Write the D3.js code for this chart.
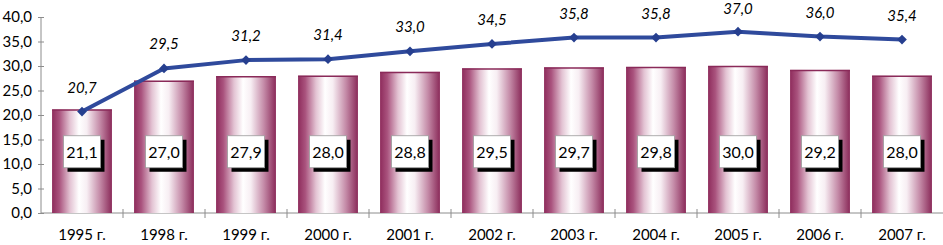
<!DOCTYPE html>
<html><head><meta charset="utf-8">
<script src="https://cdn.jsdelivr.net/npm/d3@7"></script>
<style>body{margin:0;background:#fff}svg{display:block}</style>
</head><body>
<svg id="c" width="943" height="245"></svg>
<script>
const categories = ["1995 г.","1998 г.","1999 г.","2000 г.","2001 г.","2002 г.","2003 г.","2004 г.","2005 г.","2006 г.","2007 г."];
const barValues = [21.1,27.0,27.9,28.0,28.8,29.5,29.7,29.8,30.0,29.2,28.0];
const lineValues = [20.7,29.5,31.2,31.4,33.0,34.5,35.8,35.8,37.0,36.0,35.4];
const yTicks = [0,5,10,15,20,25,30,35,40];

(function(){
const fmt = v => v.toFixed(1).replace(".", ",");
const svg = d3.select("#c");
const L = 41, R = 943, T = 17, B = 213;
const x = d3.scaleBand().domain(categories).range([L, R]).paddingInner(0.27).paddingOuter(0.135);
const xc = d3.scaleBand().domain(categories).range([L, R]);
const y = d3.scaleLinear().domain([0, 40]).range([B, T]);

const defs = svg.append("defs");
const g = defs.append("linearGradient").attr("id","bg").attr("x1","0").attr("x2","1").attr("y1","0").attr("y2","0");
[[0,"#8e2c5c"],[0.12,"#a9527d"],[0.3,"#e3c3d3"],[0.45,"#ffffff"],[0.58,"#f7eef3"],[0.8,"#c48aa7"],[1,"#8a2a59"]]
 .forEach(([o,c]) => g.append("stop").attr("offset",o).attr("stop-color",c));

// axes
const ya = svg.append("g").attr("transform",`translate(${L},0)`)
  .call(d3.axisLeft(y).tickValues(yTicks).tickFormat(fmt).tickSize(4).tickPadding(5));
ya.select(".domain").attr("stroke","#8c8c8c").attr("d",`M0,${T}V${B}`);
ya.selectAll(".tick line").attr("stroke","#8c8c8c").attr("x1",-3).attr("x2",3);
ya.selectAll("text").attr("font-family","Lato, 'Open Sans', sans-serif").attr("font-size",15).attr("fill","#000");

const xa = svg.append("g").attr("transform",`translate(0,${B})`);
xa.append("line").attr("x1",L).attr("x2",R).attr("y1",0).attr("y2",0).attr("stroke","#8c8c8c");
xa.selectAll("line.t").data(categories.slice(1)).enter().append("line")
  .attr("x1",d=>xc(d)).attr("x2",d=>xc(d)).attr("y1",-4).attr("y2",5).attr("stroke","#8c8c8c");
xa.selectAll("text").data(categories).enter().append("text")
  .attr("x",d=>xc(d)+xc.bandwidth()/2).attr("y",27).attr("text-anchor","middle")
  .attr("font-family","Lato, 'Open Sans', sans-serif").attr("font-size",15).text(d=>d);

// bars
svg.selectAll("rect.bar").data(barValues).enter().append("rect")
  .attr("x",(d,i)=>x(categories[i])).attr("width",x.bandwidth())
  .attr("y",d=>y(d)).attr("height",d=>B-y(d)).attr("fill","url(#bg)");
svg.selectAll("line.bt").data(barValues).enter().append("line")
  .attr("x1",(d,i)=>x(categories[i])).attr("x2",(d,i)=>x(categories[i])+x.bandwidth())
  .attr("y1",d=>y(d)+0.5).attr("y2",d=>y(d)+0.5).attr("stroke","#8a2a59").attr("stroke-width",1.5);

// bar labels in boxes
const bw = 37, bh = 32;
const lbl = svg.selectAll("g.bl").data(barValues).enter().append("g")
  .attr("transform",(d,i)=>`translate(${xc(categories[i])+xc.bandwidth()/2},${y(12.5)})`);
lbl.append("rect").attr("x",-bw/2+4).attr("y",-bh/2+4).attr("width",bw).attr("height",bh).attr("fill","#000");
lbl.append("rect").attr("x",-bw/2).attr("y",-bh/2).attr("width",bw).attr("height",bh).attr("fill","#fff").attr("stroke","#9a9a9a").attr("stroke-width",0.8);
lbl.append("text").attr("text-anchor","middle").attr("dy","0.36em")
  .attr("font-family","Lato, 'Open Sans', sans-serif").attr("font-size",16).text(d=>fmt(d));

// line
const px = (d,i) => xc(categories[i]) + xc.bandwidth()/2;
svg.append("path").datum(lineValues)
  .attr("d", d3.line().x(px).y(d=>y(d)))
  .attr("fill","none").attr("stroke","#2f4a9c").attr("stroke-width",4).attr("stroke-linejoin","round");
svg.selectAll("path.m").data(lineValues).enter().append("path")
  .attr("d", d3.symbol(d3.symbolDiamond2, 60)())
  .attr("transform",(d,i)=>`translate(${px(d,i)},${y(d)})`).attr("fill","#263f8f");
svg.selectAll("text.ll").data(lineValues).enter().append("text")
  .attr("x",px).attr("y",d=>Math.max(y(d)-19, 14)).attr("text-anchor","middle")
  .attr("font-family","Lato, 'Open Sans', sans-serif").attr("font-style","italic").attr("font-size",15)
  .text(d=>fmt(d));
})();
</script>
</body></html>
